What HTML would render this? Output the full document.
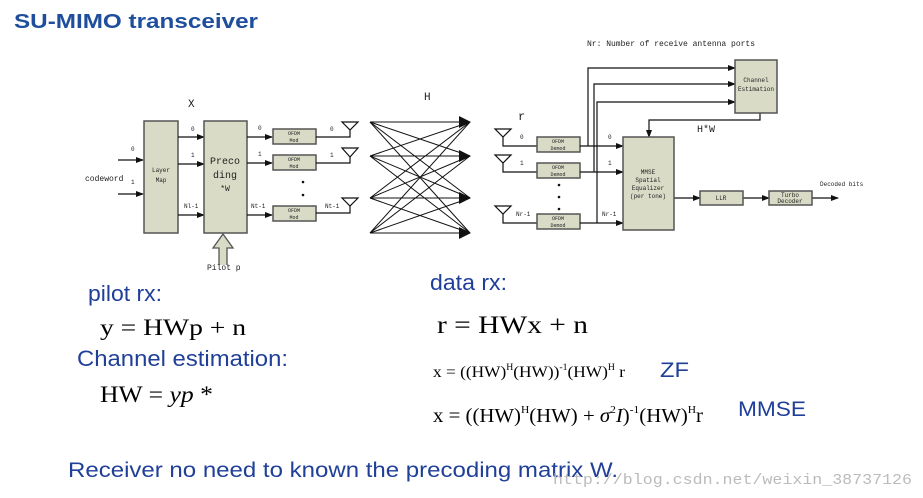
<!DOCTYPE html>
<html><head><meta charset="utf-8"><style>
body{margin:0;background:#fff;width:923px;height:498px;overflow:hidden}
svg{display:block}
.m{font-family:"Liberation Mono",monospace;fill:#222}
.b{fill:#d9dbc6;stroke:#555;stroke-width:1.5}
.l{stroke:#111;stroke-width:1.2;fill:none}
.s{font-family:"Liberation Sans",sans-serif;fill:#1f3f99}
.r{font-family:"Liberation Serif",serif;fill:#000}
</style></head><body>
<svg width="923" height="498" viewBox="0 0 923 498">
<defs><marker id="a" markerWidth="8" markerHeight="8" refX="7" refY="4" orient="auto" markerUnits="userSpaceOnUse"><path d="M0,1 L8,4 L0,7z" fill="#111"/></marker>
<marker id="A" markerWidth="12" markerHeight="12" refX="11" refY="6" orient="auto" markerUnits="userSpaceOnUse"><path d="M0,0 L12,6 L0,12z" fill="#111"/></marker></defs>
<text x="14" y="28" font-family="Liberation Sans,sans-serif" font-weight="bold" font-size="20" fill="#1f4e9c" textLength="244" lengthAdjust="spacingAndGlyphs">SU-MIMO transceiver</text>
<!-- TX -->
<text x="188" y="107" class="m" font-size="11">X</text>
<text x="424" y="100" class="m" font-size="11">H</text>
<line x1="118" y1="160" x2="143" y2="160" class="l" marker-end="url(#a)"/>
<line x1="118" y1="194" x2="143" y2="194" class="l" marker-end="url(#a)"/>
<text x="131" y="151" class="m" font-size="6">0</text><text x="131" y="184" class="m" font-size="6">1</text>
<text x="85" y="181" class="m" font-size="8">codeword</text>
<rect x="144" y="121" width="34" height="112" class="b"/>
<text x="161" y="172" class="m" font-size="6" text-anchor="middle" fill="#555">Layer</text><text x="161" y="182" class="m" font-size="6" text-anchor="middle" fill="#555">Map</text>
<g class="l"><line x1="178" y1="137" x2="204" y2="137" marker-end="url(#a)"/><line x1="178" y1="164" x2="204" y2="164" marker-end="url(#a)"/><line x1="178" y1="215" x2="204" y2="215" marker-end="url(#a)"/></g>
<text x="191" y="131" class="m" font-size="6">0</text><text x="191" y="157" class="m" font-size="6">1</text><text x="184" y="208" class="m" font-size="6">Nl-1</text>
<rect x="204" y="121" width="43" height="112" class="b"/>
<text x="225" y="164" class="m" font-size="10" text-anchor="middle">Preco</text><text x="225" y="178" class="m" font-size="10" text-anchor="middle">ding</text><text x="225" y="191" class="m" font-size="8" text-anchor="middle">*W</text>
<path d="M219,265 V248 H213 L223,234 L233,248 H227 V265" fill="#d9dbc6" stroke="#555" stroke-width="1.3"/>
<text x="207" y="270" class="m" font-size="8">Pilot p</text>
<g class="l"><line x1="247" y1="137" x2="272" y2="137" marker-end="url(#a)"/><line x1="247" y1="163" x2="272" y2="163" marker-end="url(#a)"/><line x1="247" y1="215" x2="272" y2="215" marker-end="url(#a)"/></g>
<text x="258" y="130" class="m" font-size="6">0</text><text x="258" y="156" class="m" font-size="6">1</text><text x="251" y="208" class="m" font-size="6">Nt-1</text>
<g font-size="5" text-anchor="middle" class="m">
<rect x="273" y="129" width="43" height="15" class="b"/><text x="294" y="135">OFDM</text><text x="294" y="142">Mod</text>
<rect x="273" y="155" width="43" height="15" class="b"/><text x="294" y="161">OFDM</text><text x="294" y="168">Mod</text>
<rect x="273" y="206" width="43" height="15" class="b"/><text x="294" y="212">OFDM</text><text x="294" y="219">Mod</text></g>
<circle cx="303" cy="182" r="1.3" fill="#111"/><circle cx="303" cy="195" r="1.3" fill="#111"/>
<g class="l"><path d="M316,137 H350 V130"/><path d="M316,163 H350 V157"/><path d="M316,213 H350 V206"/>
<path d="M342,122 H358 L350,130Z"/><path d="M342,148 H358 L350,157Z"/><path d="M342,198 H358 L350,206Z"/></g>
<text x="330" y="131" class="m" font-size="6">0</text><text x="330" y="157" class="m" font-size="6">1</text><text x="325" y="208" class="m" font-size="6">Nt-1</text>
<!-- H -->
<g stroke="#111" stroke-width="1" fill="none">
<line x1="370" y1="122" x2="470" y2="122" marker-end="url(#A)"/><line x1="370" y1="122" x2="470" y2="156"/><line x1="370" y1="122" x2="470" y2="198"/><line x1="370" y1="122" x2="470" y2="233"/>
<line x1="370" y1="156" x2="470" y2="122"/><line x1="370" y1="156" x2="470" y2="156" marker-end="url(#A)"/><line x1="370" y1="156" x2="470" y2="198"/><line x1="370" y1="156" x2="470" y2="233"/>
<line x1="370" y1="198" x2="470" y2="122"/><line x1="370" y1="198" x2="470" y2="156"/><line x1="370" y1="198" x2="470" y2="198" marker-end="url(#A)"/><line x1="370" y1="198" x2="470" y2="233"/>
<line x1="370" y1="233" x2="470" y2="122"/><line x1="370" y1="233" x2="470" y2="156"/><line x1="370" y1="233" x2="470" y2="198"/><line x1="370" y1="233" x2="470" y2="233" marker-end="url(#A)"/></g>
<!-- RX -->
<text x="518" y="120" class="m" font-size="12">r</text>
<text x="587" y="46" class="m" font-size="8">Nr: Number of receive antenna ports</text>
<g class="l"><path d="M495,129 H511 L503,137Z"/><path d="M495,155 H511 L503,163Z"/><path d="M495,206 H511 L503,214Z"/>
<path d="M503,137 V146 H537"/><path d="M503,163 V172 H537"/><path d="M503,214 V223 H537"/></g>
<text x="520" y="139" class="m" font-size="6">0</text><text x="520" y="165" class="m" font-size="6">1</text><text x="516" y="216" class="m" font-size="6">Nr-1</text>
<g font-size="5" text-anchor="middle" class="m">
<rect x="537" y="137" width="43" height="15" class="b"/><text x="558" y="143">OFDM</text><text x="558" y="150">Demod</text>
<rect x="537" y="163" width="43" height="15" class="b"/><text x="558" y="169">OFDM</text><text x="558" y="176">Demod</text>
<rect x="537" y="214" width="43" height="15" class="b"/><text x="558" y="220">OFDM</text><text x="558" y="227">Demod</text></g>
<circle cx="559" cy="185" r="1.3" fill="#111"/><circle cx="559" cy="197" r="1.3" fill="#111"/><circle cx="559" cy="209" r="1.3" fill="#111"/>
<g class="l"><line x1="580" y1="146" x2="623" y2="146" marker-end="url(#a)"/><line x1="580" y1="172" x2="623" y2="172" marker-end="url(#a)"/><line x1="580" y1="223" x2="623" y2="223" marker-end="url(#a)"/>
<path d="M588,146 V68 H735" marker-end="url(#a)"/><path d="M594,172 V84 H735" marker-end="url(#a)"/><path d="M597,223 V102 H735" marker-end="url(#a)"/>
<path d="M760,113 V120 H649 V137" marker-end="url(#a)"/>
<line x1="674" y1="198" x2="700" y2="198" marker-end="url(#a)"/><line x1="743" y1="198" x2="769" y2="198" marker-end="url(#a)"/><line x1="812" y1="198" x2="838" y2="198" marker-end="url(#a)"/></g>
<text x="608" y="139" class="m" font-size="6">0</text><text x="608" y="165" class="m" font-size="6">1</text><text x="602" y="216" class="m" font-size="6">Nr-1</text>
<rect x="735" y="60" width="42" height="53" class="b"/>
<g font-size="6" text-anchor="middle" class="m" fill="#555"><text x="756" y="82">Channel</text><text x="756" y="91">Estimation</text></g>
<text x="697" y="132" class="m" font-size="10">H*W</text>
<rect x="623" y="137" width="51" height="93" class="b"/>
<g font-size="6" text-anchor="middle" class="m" fill="#444"><text x="648" y="174">MMSE</text><text x="648" y="182">Spatial</text><text x="648" y="190">Equalizer</text><text x="648" y="198">(per tone)</text></g>
<rect x="700" y="191" width="43" height="14" class="b"/><text x="721" y="200" class="m" font-size="6" text-anchor="middle">LLR</text>
<rect x="769" y="191" width="43" height="14" class="b"/><text x="790" y="197" class="m" font-size="6" text-anchor="middle">Turbo</text><text x="790" y="203" class="m" font-size="6" text-anchor="middle">Decoder</text>
<text x="820" y="186" class="m" font-size="6" fill="#555">Decoded bits</text>
<!-- lower -->
<text x="88" y="301" class="s" font-size="22" textLength="74" lengthAdjust="spacingAndGlyphs">pilot rx:</text>
<text x="100" y="335" class="r" font-size="23" textLength="146" lengthAdjust="spacingAndGlyphs">y = HWp  + n</text>
<text x="77" y="366" class="s" font-size="22" textLength="211" lengthAdjust="spacingAndGlyphs">Channel estimation:</text>
<text x="100" y="402" class="r" font-size="23" textLength="113" lengthAdjust="spacingAndGlyphs">HW = <tspan font-style="italic">yp</tspan> *</text>
<text x="430" y="290" class="s" font-size="22" textLength="77" lengthAdjust="spacingAndGlyphs">data rx:</text>
<text x="437" y="333" class="r" font-size="25" textLength="151" lengthAdjust="spacingAndGlyphs">r = HWx + n</text>
<text x="433" y="377" class="r" font-size="16" textLength="192" lengthAdjust="spacingAndGlyphs">x = ((HW)<tspan font-size="9" dy="-7">H</tspan><tspan dy="7">(HW))</tspan><tspan font-size="9" dy="-7">-1</tspan><tspan dy="7">(HW)</tspan><tspan font-size="9" dy="-7">H</tspan><tspan dy="7"> r</tspan></text>
<text x="660" y="377" class="s" font-size="21" textLength="29" lengthAdjust="spacingAndGlyphs">ZF</text>
<text x="433" y="422" class="r" font-size="20" textLength="270" lengthAdjust="spacingAndGlyphs">x = ((HW)<tspan font-size="11" dy="-9">H</tspan><tspan dy="9">(HW) + </tspan><tspan font-style="italic">σ</tspan><tspan font-size="11" dy="-9">2</tspan><tspan dy="9" font-style="italic">I</tspan>)<tspan font-size="11" dy="-9">-1</tspan><tspan dy="9">(HW)</tspan><tspan font-size="11" dy="-9">H</tspan><tspan dy="9">r</tspan></text>
<text x="738" y="416" class="s" font-size="21" textLength="68" lengthAdjust="spacingAndGlyphs">MMSE</text>
<text x="68" y="477" class="s" font-size="21" textLength="550" lengthAdjust="spacingAndGlyphs">Receiver  no need to known the precoding matrix W.</text>
<text x="553" y="484" font-family="Liberation Mono,monospace" font-size="15" fill="#bbb" textLength="359" lengthAdjust="spacingAndGlyphs">http://blog.csdn.net/weixin_38737126</text>
</svg>
</body></html>
